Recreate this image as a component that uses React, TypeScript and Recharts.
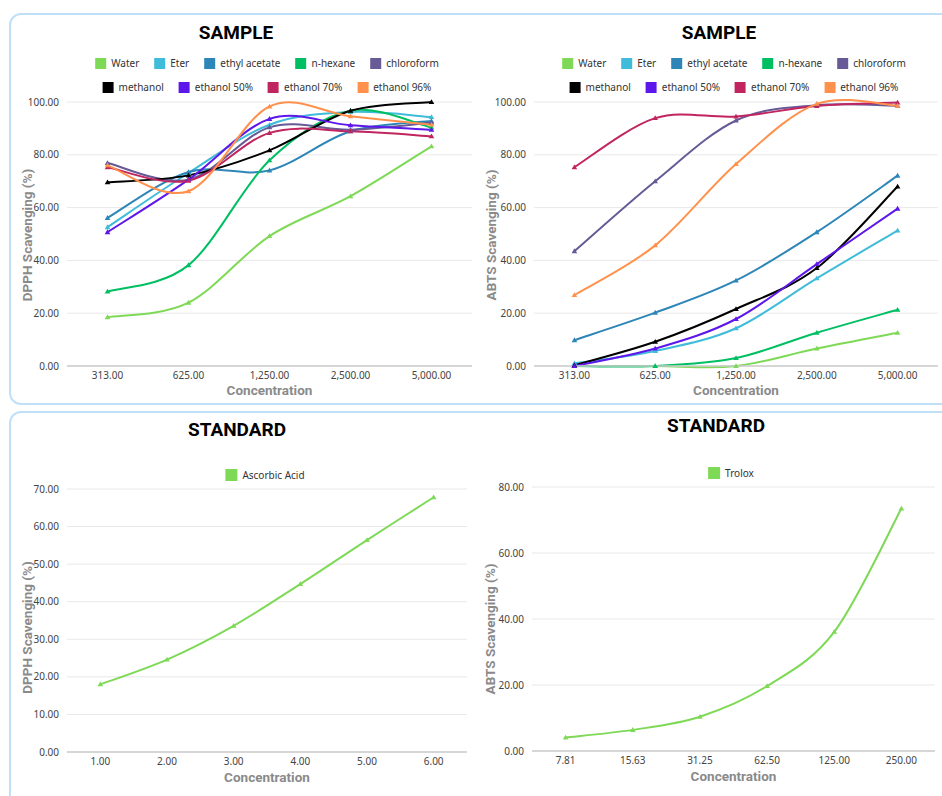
import React from 'react';
import { LineChart, Line, XAxis, YAxis, CartesianGrid } from 'recharts';

// ---------- DATA ----------
const sampleConcentrations = ['313.00', '625.00', '1,250.00', '2,500.00', '5,000.00'];
const seriesNames = ['Water', 'Eter', 'ethyl acetate', 'n-hexane', 'chloroform', 'methanol', 'ethanol 50%', 'ethanol 70%', 'ethanol 96%'];
const seriesColors = ['#7ed957', '#3fbcd9', '#2e86b8', '#00bf63', '#675a96', '#000000', '#5e17eb', '#c1255f', '#ff914d'];

// DPPH sample
const dpphWater = [18.5, 24, 49.2, 64.3, 83.2];
const dpphEter = [52.6, 73.1, 91.4, 96.2, 94.3];
const dpphEthylAcetate = [56.1, 73.5, 74.1, 88.9, 92.8];
const dpphHexane = [28.2, 38.2, 77.9, 96.7, 90.3];
const dpphChloroform = [76.9, 70.6, 90.4, 89.5, 92.2];
const dpphMethanol = [69.6, 72.2, 81.7, 96.7, 100];
const dpphEthanol50 = [50.7, 70.6, 93.6, 91.2, 89.5];
const dpphEthanol70 = [75.3, 70.2, 88.3, 88.9, 87];
const dpphEthanol96 = [76, 66.2, 98.3, 94.6, 91.4];

// ABTS sample
const abtsWater = [0, 0, 0, 6.6, 12.6];
const abtsEter = [1, 5.7, 14.3, 33.2, 51.3];
const abtsEthylAcetate = [9.8, 20.2, 32.4, 50.7, 72.1];
const abtsHexane = [0, 0, 3, 12.6, 21.3];
const abtsChloroform = [43.5, 70, 93, 98.8, 98.6];
const abtsMethanol = [0.3, 9.2, 21.6, 37.1, 68];
const abtsEthanol50 = [0, 6.6, 17.8, 38.6, 59.6];
const abtsEthanol70 = [75.3, 93.9, 94.5, 98.5, 99.8];
const abtsEthanol96 = [26.9, 45.7, 76.5, 99.3, 98.6];

// Standards
const ascorbicConcentrations = ['1.00', '2.00', '3.00', '4.00', '5.00', '6.00'];
const ascorbicAcid = [18, 24.6, 33.6, 44.7, 56.4, 67.8];
const troloxConcentrations = ['7.81', '15.63', '31.25', '62.50', '125.00', '250.00'];
const trolox = [4.1, 6.4, 10.4, 19.7, 36.1, 73.5];

const sampleTicks = [0, 20, 40, 60, 80, 100];
const ascorbicTicks = [0, 10, 20, 30, 40, 50, 60, 70];
const troloxTicks = [0, 20, 40, 60, 80];

const dpphSeries = [dpphWater, dpphEter, dpphEthylAcetate, dpphHexane, dpphChloroform, dpphMethanol, dpphEthanol50, dpphEthanol70, dpphEthanol96];
const abtsSeries = [abtsWater, abtsEter, abtsEthylAcetate, abtsHexane, abtsChloroform, abtsMethanol, abtsEthanol50, abtsEthanol70, abtsEthanol96];

function buildRows(categories: string[], series: number[][]) {
  return categories.map((c, i) => {
    const row: any = { conc: c };
    series.forEach((s, k) => { row['s' + k] = s[i]; });
    return row;
  });
}

// ---------- Catmull-Rom curve factory ----------
function catmullRom(context: any) {
  let pts: number[][] = [];
  return {
    areaStart() {},
    areaEnd() {},
    lineStart() { pts = []; },
    point(x: number, y: number) { pts.push([+x, +y]); },
    lineEnd() {
      const n = pts.length;
      if (!n) return;
      context.moveTo(pts[0][0], pts[0][1]);
      if (n === 1) return;
      if (n === 2) { context.lineTo(pts[1][0], pts[1][1]); return; }
      const k = 1 / 6;
      for (let i = 0; i < n - 1; i++) {
        const p0 = pts[i - 1] || pts[i];
        const p1 = pts[i];
        const p2 = pts[i + 1];
        const p3 = pts[i + 2] || p2;
        context.bezierCurveTo(
          p1[0] + k * (p2[0] - p0[0]), p1[1] + k * (p2[1] - p0[1]),
          p2[0] - k * (p3[0] - p1[0]), p2[1] - k * (p3[1] - p1[1]),
          p2[0], p2[1]
        );
      }
    },
  };
}

const triDot = (color: string) => (props: any) => {
  const { cx, cy, index } = props;
  if (cx == null || cy == null) return <g key={index} />;
  return <path key={index} d={`M${cx},${cy - 2.8}L${cx + 2.8},${cy + 2}L${cx - 2.8},${cy + 2}Z`} fill={color} />;
};

const tickFont = { fontFamily: 'Noto Sans', fontSize: 10, fill: '#444' };
const titleFont = { fontFamily: 'Roboto', fontWeight: 700, fontSize: 13.5, fill: '#8a8a8a' };

const yTitle = (text: string, offset: number, shift: number) => (props: any) => {
  const vb = props.viewBox || {};
  const x = (vb.x || 0) + offset;
  const y = (vb.y || 0) + (vb.height || 0) / 2 + shift;
  return (
    <text x={x} y={y} transform={`rotate(-90, ${x}, ${y})`} textAnchor="middle" dominantBaseline="central"
      fontFamily="Roboto" fontWeight={700} fontSize={13.5} fill="#8a8a8a">
      {text}
    </text>
  );
};

interface ChartProps {
  left: number; top: number; width: number; height: number;
  margin: any; yAxisWidth: number; xAxisHeight: number;
  rows: any[]; names: string[]; colors: string[];
  yDomain: number[]; yTicks: number[]; yLabel: string; yLabelOffset: number; yLabelShift: number;
}

function PanelChart(p: ChartProps) {
  return (
    <div style={{ position: 'absolute', left: p.left, top: p.top, width: p.width, height: p.height }}>
      <LineChart width={p.width} height={p.height} data={p.rows} margin={p.margin}>
        <CartesianGrid horizontal vertical={false} stroke="#e8e8e8" />
        <XAxis
          dataKey="conc"
          scale="band"
          tick={tickFont}
          tickLine={false}
          tickSize={6}
          tickMargin={0}
          axisLine={{ stroke: '#cccccc', strokeWidth: 1.5 }}
          height={p.xAxisHeight}
          interval={0}
          label={{ value: 'Concentration', position: 'insideBottom', offset: 0, style: titleFont }}
        />
        <YAxis
          width={p.yAxisWidth}
          domain={p.yDomain}
          ticks={p.yTicks}
          tick={tickFont}
          tickLine={false}
          axisLine={false}
          tickFormatter={(v: number) => v.toFixed(2)}
          label={yTitle(p.yLabel, p.yLabelOffset, p.yLabelShift)}
        />
        {p.names.map((n, k) => (
          <Line
            key={n}
            dataKey={'s' + k}
            name={n}
            type={catmullRom as any}
            stroke={p.colors[k]}
            strokeWidth={2}
            dot={triDot(p.colors[k])}
            activeDot={false}
            isAnimationActive={false}
          />
        ))}
      </LineChart>
    </div>
  );
}

function LegendRow({ cx, y, items, colors, size = 11 }: { cx: number; y: number; items: string[]; colors: string[]; size?: number }) {
  return (
    <div style={{ position: 'absolute', left: cx, top: y, transform: 'translate(-50%, -50%)', display: 'flex', alignItems: 'center', whiteSpace: 'nowrap', fontFamily: 'Noto Sans', fontSize: 10, color: '#333' }}>
      {items.map((it, i) => (
        <div key={it} style={{ display: 'flex', alignItems: 'center', marginLeft: i === 0 ? 0 : 15 }}>
          <div style={{ width: size, height: size, background: colors[i], marginRight: 5 }} />
          <span>{it}</span>
        </div>
      ))}
    </div>
  );
}

function Title({ cx, y, text }: { cx: number; y: number; text: string }) {
  return (
    <div style={{ position: 'absolute', left: cx, top: y, transform: 'translate(-50%, -50%)', fontFamily: 'Roboto', fontWeight: 700, fontSize: 19, color: '#000', whiteSpace: 'nowrap', lineHeight: 1 }}>
      {text}
    </div>
  );
}

export default function App() {
  const dpphRows = buildRows(sampleConcentrations, dpphSeries);
  const abtsRows = buildRows(sampleConcentrations, abtsSeries);
  const ascRows = buildRows(ascorbicConcentrations, [ascorbicAcid]);
  const troRows = buildRows(troloxConcentrations, [trolox]);
  const row1 = seriesNames.slice(0, 5);
  const row2 = seriesNames.slice(5);
  const c1 = seriesColors.slice(0, 5);
  const c2 = seriesColors.slice(5);
  const border = '2px solid #bfe0f7';
  return (
    <div style={{ position: 'absolute', left: 0, top: 0, width: 942, height: 796, overflow: 'hidden', background: '#fff' }}>
      <div style={{ position: 'absolute', left: 9, top: 13, width: 960, height: 392, boxSizing: 'border-box', border, borderRadius: 12 }} />
      <div style={{ position: 'absolute', left: 9, top: 411, width: 960, height: 420, boxSizing: 'border-box', border, borderRadius: 12 }} />

      <PanelChart left={0} top={0} width={472} height={404}
        margin={{ top: 102, right: 0, left: 10, bottom: 9 }} yAxisWidth={57} xAxisHeight={29}
        rows={dpphRows} names={seriesNames} colors={seriesColors}
        yDomain={[0, 100]} yTicks={sampleTicks} yLabel="DPPH Scavenging (%)" yLabelOffset={17} yLabelShift={1} />
      <Title cx={236} y={32} text="SAMPLE" />
      <LegendRow cx={267} y={63} items={row1} colors={c1} />
      <LegendRow cx={267} y={87} items={row2} colors={c2} />

      <PanelChart left={471} top={0} width={471} height={404}
        margin={{ top: 102, right: 4, left: 6, bottom: 9 }} yAxisWidth={57} xAxisHeight={29}
        rows={abtsRows} names={seriesNames} colors={seriesColors}
        yDomain={[0, 100]} yTicks={sampleTicks} yLabel="ABTS Scavenging (%)" yLabelOffset={14} yLabelShift={1} />
      <Title cx={719} y={32} text="SAMPLE" />
      <LegendRow cx={734} y={63} items={row1} colors={c1} />
      <LegendRow cx={734} y={87} items={row2} colors={c2} />

      <PanelChart left={0} top={404} width={470} height={392}
        margin={{ top: 85, right: 3, left: 10, bottom: 14 }} yAxisWidth={57} xAxisHeight={30}
        rows={ascRows} names={['Ascorbic Acid']} colors={['#7ed957']}
        yDomain={[0, 70]} yTicks={ascorbicTicks} yLabel="DPPH Scavenging (%)" yLabelOffset={17} yLabelShift={7} />
      <Title cx={237} y={429} text="STANDARD" />
      <LegendRow cx={265} y={475} items={['Ascorbic Acid']} colors={['#7ed957']} size={12} />

      <PanelChart left={471} top={404} width={471} height={392}
        margin={{ top: 83, right: 7, left: 5, bottom: 15 }} yAxisWidth={56} xAxisHeight={30}
        rows={troRows} names={['Trolox']} colors={['#7ed957']}
        yDomain={[0, 80]} yTicks={troloxTicks} yLabel="ABTS Scavenging (%)" yLabelOffset={14} yLabelShift={10} />
      <Title cx={716} y={425} text="STANDARD" />
      <LegendRow cx={731} y={473} items={['Trolox']} colors={['#7ed957']} size={12} />
    </div>
  );
}
